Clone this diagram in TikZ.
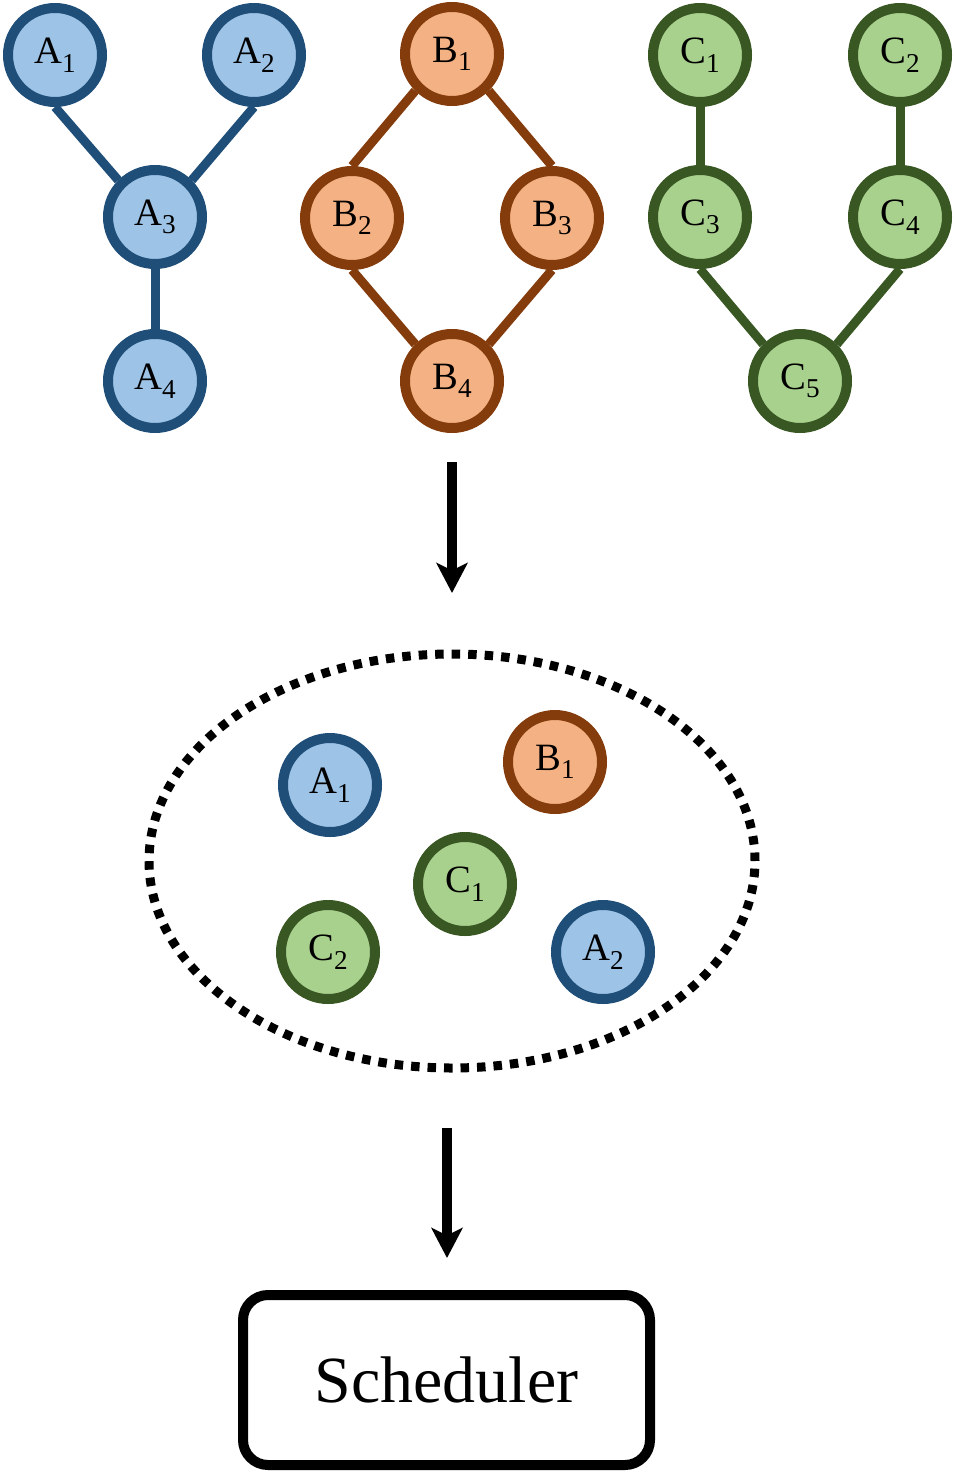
\documentclass[tikz,border=0pt]{standalone}
\usepackage{fontspec}
\setmainfont{Liberation Serif}
\usetikzlibrary{positioning, arrows.meta, shapes.geometric}
\definecolor{cafill}{RGB}{157,195,230}
\definecolor{cadraw}{RGB}{31,78,121}
\definecolor{cbfill}{RGB}{244,177,131}
\definecolor{cbdraw}{RGB}{132,60,12}
\definecolor{ccfill}{RGB}{169,209,142}
\definecolor{ccdraw}{RGB}{56,87,35}
\newcommand{\lbl}[2]{#1\raisebox{-0.22em}{\fontsize{15.5}{16}\selectfont #2}}

\begin{document}
\begin{tikzpicture}[font=\fontsize{22}{24}\selectfont,
    task/.style={circle, line width=0.2cm, minimum size=1.88cm, inner sep=0pt},
    taska/.style={task, draw=cadraw, fill=cafill},
    taskb/.style={task, draw=cbdraw, fill=cbfill},
    taskc/.style={task, draw=ccdraw, fill=ccfill},
    dep/.style={line width=0.18cm},
    flow/.style={line width=0.2cm, -{Stealth[length=0.6cm, width=0.62cm, inset=0.15cm]}},
    pooled/.style={ellipse, draw, line width=0.18cm, dash pattern=on 0.17cm off 0.16cm,
      minimum width=12.12cm, minimum height=8.28cm},
    sched/.style={draw, line width=0.2cm, rounded corners=0.5cm,
      minimum width=8.14cm, minimum height=3.4cm, font=\fontsize{37.5}{40}\selectfont}]

  \useasboundingbox (0,0) rectangle (19.1,-29.48);

  % --- job A ---
  \node[taska] (a1) at (1.10,-1.10) {\lbl{A}{1}};
  \node[taska] (a2) at (5.08,-1.10) {\lbl{A}{2}};
  \node[taska] (a3) at (3.10,-4.34) {\lbl{A}{3}};
  \node[taska] (a4) at (3.10,-7.62) {\lbl{A}{4}};
  \draw[dep, cadraw] (a1.south) -- (a3.north west);
  \draw[dep, cadraw] (a2.south) -- (a3.north east);
  \draw[dep, cadraw] (a3.south) -- (a4.north);

  % --- job B ---
  \node[taskb] (b1) at (9.04,-1.08) {\lbl{B}{1}};
  \node[taskb] (b2) at (7.04,-4.36) {\lbl{B}{2}};
  \node[taskb] (b3) at (11.04,-4.36) {\lbl{B}{3}};
  \node[taskb] (b4) at (9.04,-7.62) {\lbl{B}{4}};
  \draw[dep, cbdraw] (b1.south west) -- (b2.north);
  \draw[dep, cbdraw] (b1.south east) -- (b3.north);
  \draw[dep, cbdraw] (b2.south) -- (b4.north west);
  \draw[dep, cbdraw] (b3.south) -- (b4.north east);

  % --- job C ---
  \node[taskc] (c1) at (14.0,-1.10) {\lbl{C}{1}};
  \node[taskc] (c2) at (18.0,-1.10) {\lbl{C}{2}};
  \node[taskc] (c3) at (14.0,-4.34) {\lbl{C}{3}};
  \node[taskc] (c4) at (18.0,-4.34) {\lbl{C}{4}};
  \node[taskc] (c5) at (16.0,-7.62) {\lbl{C}{5}};
  \draw[dep, ccdraw] (c1.south) -- (c3.north);
  \draw[dep, ccdraw] (c2.south) -- (c4.north);
  \draw[dep, ccdraw] (c3.south) -- (c5.north west);
  \draw[dep, ccdraw] (c4.south) -- (c5.north east);

  % --- ready pool ---
  \coordinate (in1) at (9.04,-9.24);
  \coordinate (in2) at (9.04,-11.86);
  \draw[flow] (in1) -- (in2);

  \node[pooled] (pool) at (9.04,-17.22) {};
  \node[taska] (pa1) at (6.60,-15.70) {\lbl{A}{1}};
  \node[taskb] (pb1) at (11.10,-15.24) {\lbl{B}{1}};
  \node[taskc] (pc1) at (9.30,-17.68) {\lbl{C}{1}};
  \node[taskc] (pc2) at (6.56,-19.04) {\lbl{C}{2}};
  \node[taska] (pa2) at (12.06,-19.04) {\lbl{A}{2}};

  % --- scheduler ---
  \node[sched] (sched) at (8.93,-27.6) {Scheduler};
  \coordinate (out1) at (8.94,-22.56);
  \coordinate (out2) at (8.94,-25.16);
  \draw[flow] (out1) -- (out2);
\end{tikzpicture}
\end{document}
